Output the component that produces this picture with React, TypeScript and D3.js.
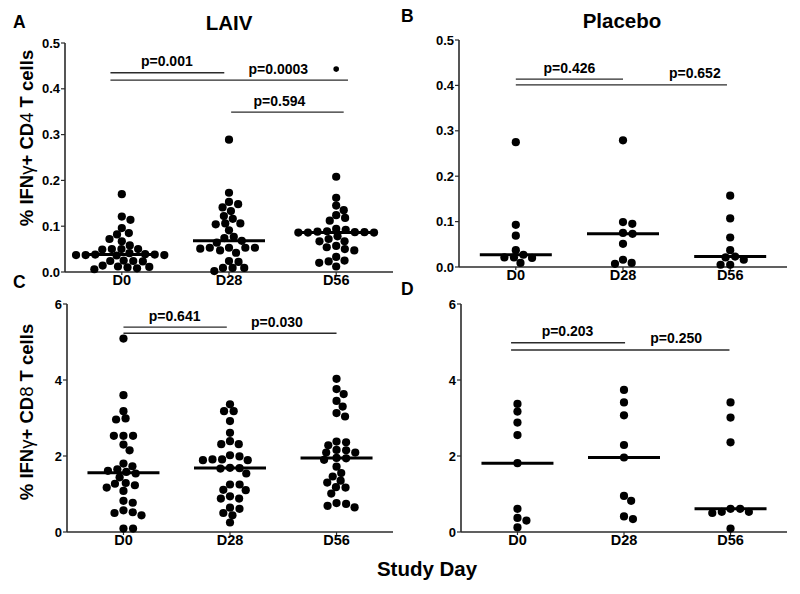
import React from "react";
import * as d3 from "d3";

const days = ["D0", "D28", "D56"];

// % IFNγ+ CD4 T cells, LAIV group
const laivCd4D0 = [
  0.17, 0.121, 0.114, 0.096, 0.082, 0.085, 0.067, 0.072, 0.058, 0.049, 0.05, 0.05, 0.05,
  0.038, 0.037, 0.037, 0.036, 0.038, 0.037, 0.039, 0.041, 0.024, 0.025, 0.024, 0.023,
  0.011, 0.008, 0.006, 0.012, 0.01, 0.014,
];
const laivCd4D28 = [
  0.289, 0.173, 0.153, 0.148, 0.141, 0.133, 0.122, 0.116, 0.106, 0.104, 0.106, 0.091,
  0.077, 0.074, 0.068, 0.064, 0.053, 0.053, 0.047, 0.051, 0.053, 0.053, 0.042, 0.022,
  0.024, 0.009, 0.009, 0.009, 0.002,
];
const laivCd4D56 = [
  0.208, 0.162, 0.145, 0.135, 0.124, 0.118, 0.112, 0.088, 0.087, 0.086, 0.086, 0.092,
  0.094, 0.086, 0.087, 0.089, 0.067, 0.057, 0.072, 0.078, 0.067, 0.05, 0.047, 0.054,
  0.033, 0.023, 0.02, 0.025, 0.012,
];
const laivCd4Extra = [null, null, 0.443];

// % IFNγ+ CD4 T cells, placebo group
const placeboCd4D0 = [0.275, 0.093, 0.069, 0.037, 0.027, 0.02, 0.021, 0.021, 0.009];
const placeboCd4D28 = [0.279, 0.099, 0.095, 0.075, 0.073, 0.051, 0.016, 0.007, 0.009];
const placeboCd4D56 = [0.157, 0.107, 0.065, 0.037, 0.023, 0.016, 0.021, 0.005, 0.005];

// % IFNγ+ CD8 T cells, LAIV group
const laivCd8D0 = [
  5.09, 3.6, 3.18, 2.99, 2.96, 2.53, 2.53, 2.53, 2.3, 2.15, 1.8, 1.73, 1.65, 1.58, 1.44,
  1.54, 1.61, 1.27, 1.17, 1.08, 1.23, 1.29, 0.77, 0.82, 0.57, 0.5, 0.44, 0.52, 0.09, 0.09,
];
const laivCd8D28 = [
  3.36, 3.18, 3.18, 2.92, 2.61, 2.39, 2.31, 2.31, 2.02, 1.91, 1.89, 1.89, 1.91, 1.99,
  1.68, 1.67, 1.69, 1.54, 1.25, 1.25, 1.11, 1.1, 0.88, 0.94, 0.88, 0.64, 0.61, 0.5, 0.44,
  0.25,
];
const laivCd8D56 = [
  4.03, 3.76, 3.63, 3.45, 3.3, 3.13, 3.04, 2.28, 2.38, 2.36, 2.15, 2.09, 2.09, 2.16,
  1.95, 1.9, 1.94, 1.72, 1.46, 1.55, 1.3, 1.35, 1.17, 1.18, 1.01, 0.74, 0.65, 0.69, 0.76,
];

// % IFNγ+ CD8 T cells, placebo group
const placeboCd8D0 = [3.37, 3.17, 2.88, 2.55, 1.81, 0.61, 0.37, 0.3, 0.12];
const placeboCd8D28 = [3.74, 3.41, 3.07, 2.29, 1.96, 0.95, 0.82, 0.34, 0.41];
const placeboCd8D56 = [3.41, 3.01, 2.36, 0.61, 0.53, 0.5, 0.53, 0.61, 0.09];

const cd4Ticks = [0, 0.1, 0.2, 0.3, 0.4, 0.5];
const cd8Ticks = [0, 2, 4, 6];

// significance bars: from/to/labelAt are in category steps (0 = D0)
const laivCd4Bars = [
  { from: -0.106, to: 0.956, y: 0.435, label: "p=0.001", at: 0.42 },
  { from: -0.106, to: 2.11, y: 0.419, label: "p=0.0003", at: 1.46 },
  { from: 1.02, to: 2.07, y: 0.349, label: "p=0.594", at: 1.47 },
];
const placeboCd4Bars = [
  { from: 0, to: 1.0, y: 0.414, label: "p=0.426", at: 0.5 },
  { from: 0, to: 1.97, y: 0.401, label: "p=0.652", at: 1.67 },
];
const laivCd8Bars = [
  { from: 0, to: 0.97, y: 5.39, label: "p=0.641", at: 0.48 },
  { from: 0, to: 2.0, y: 5.23, label: "p=0.030", at: 1.44 },
];
const placeboCd8Bars = [
  { from: -0.06, to: 1.01, y: 4.98, label: "p=0.203", at: 0.47 },
  { from: -0.06, to: 1.99, y: 4.79, label: "p=0.250", at: 1.49 },
];

const FONT = "'Liberation Sans', Arial, Helvetica, sans-serif";
const INK = "#2b2b2b";

// beeswarm with an elliptical exclusion zone: wider across than up/down,
// so close rows stagger like the original scatter-dot plot
function swarm(vals: number[], y: (v: number) => number, wx: number, wy: number) {
  const pts = vals.map((v) => ({ v, y: y(v), x: 0 }));
  const order = pts.slice().sort((a, b) => a.y - b.y);
  const placed: { x: number; y: number }[] = [];
  const hit = (q: { x: number; y: number }, cx: number, cy: number) =>
    ((q.x - cx) / wx) ** 2 + ((q.y - cy) / wy) ** 2 < 0.999;
  for (const p of order) {
    const cands = [0];
    for (const q of placed) {
      const dy = Math.abs(q.y - p.y);
      if (dy < wy) {
        const dx = wx * Math.sqrt(1 - (dy / wy) ** 2);
        cands.push(q.x + dx, q.x - dx);
      }
    }
    cands.sort((a, b) => Math.abs(a) - Math.abs(b) || b - a);
    for (const c of cands) {
      if (!placed.some((q) => hit(q, c, p.y))) {
        p.x = c;
        break;
      }
    }
    placed.push(p);
  }
  return pts;
}

interface Bar {
  from: number;
  to: number;
  y: number;
  label: string;
  at: number;
}

interface PanelProps {
  groups: number[][];
  extra?: (number | null)[];
  domain: [number, number];
  ticks: number[];
  fmt: (v: number) => string;
  bars: Bar[];
  left: number;
  right: number;
  top: number;
  bottom: number;
}

const Panel: React.FC<PanelProps> = ({ groups, extra, domain, ticks, fmt, bars, left, right, top, bottom }) => {
  const x = d3.scalePoint<string>().domain(days).range([left, right]).padding(0.53);
  const y = d3.scaleLinear().domain(domain).range([bottom, top]);
  const step = x.step();
  const x0 = x(days[0]) as number;
  const ix = (i: number) => x0 + i * step;

  return (
    <g>
      {/* axes */}
      <line x1={left} x2={left} y1={top} y2={bottom} stroke={INK} strokeWidth={1.6} />
      <line x1={left} x2={right} y1={bottom} y2={bottom} stroke={INK} strokeWidth={1.6} />
      {ticks.map((t) => (
        <g key={t}>
          <line x1={left - 4} x2={left} y1={y(t)} y2={y(t)} stroke={INK} strokeWidth={1.2} />
          <text x={left - 5} y={y(t)} dy="0.36em" textAnchor="end" fontSize={13} fontWeight="bold">
            {fmt(t)}
          </text>
        </g>
      ))}
      {days.map((d) => (
        <g key={d}>
          <line x1={x(d)} x2={x(d)} y1={bottom} y2={bottom + 3} stroke={INK} strokeWidth={1.2} />
          <text x={x(d)} y={bottom + 12.5} textAnchor="middle" fontSize={14.5} fontWeight="bold">
            {d}
          </text>
        </g>
      ))}

      {/* dots and medians */}
      {groups.map((vals, gi) => {
        const cx = x(days[gi]) as number;
        const med = d3.median(vals) as number;
        return (
          <g key={gi}>
            {swarm(vals, y, 9.6, 7.4).map((p, i) => (
              <circle key={i} cx={cx + p.x} cy={p.y} r={4.1} fill="#000" />
            ))}
            <line x1={cx - 36} x2={cx + 36} y1={y(med)} y2={y(med)} stroke="#000" strokeWidth={3} />
          </g>
        );
      })}
      {extra &&
        extra.map((v, gi) =>
          v == null ? null : <circle key={"e" + gi} cx={x(days[gi])} cy={y(v)} r={2.8} fill="#000" />
        )}

      {/* significance bars */}
      {bars.map((b) => (
        <g key={b.label}>
          <line x1={ix(b.from)} x2={ix(b.to)} y1={y(b.y)} y2={y(b.y)} stroke={INK} strokeWidth={1.3} />
          <text x={ix(b.at)} y={y(b.y) - 6.5} textAnchor="middle" fontSize={14} fontWeight="bold">
            {b.label}
          </text>
        </g>
      ))}
    </g>
  );
};

const f1 = d3.format(".1f");
const f0 = d3.format("d");

export default function App() {
  return (
    <svg
      width={800}
      height={594}
      style={{ position: "absolute", left: 0, top: 0, background: "#fff" }}
      fontFamily={FONT}
      fill="#000"
    >
      <rect width={800} height={594} fill="#fff" />

      <Panel
        groups={[laivCd4D0, laivCd4D28, laivCd4D56]}
        extra={laivCd4Extra}
        domain={[0, 0.5]}
        ticks={cd4Ticks}
        fmt={f1}
        bars={laivCd4Bars}
        left={65}
        right={393}
        top={43}
        bottom={272}
      />
      <Panel
        groups={[placeboCd4D0, placeboCd4D28, placeboCd4D56]}
        domain={[0, 0.5]}
        ticks={cd4Ticks}
        fmt={f1}
        bars={placeboCd4Bars}
        left={459}
        right={787}
        top={40}
        bottom={267}
      />
      <Panel
        groups={[laivCd8D0, laivCd8D28, laivCd8D56]}
        domain={[0, 6]}
        ticks={cd8Ticks}
        fmt={f0}
        bars={laivCd8Bars}
        left={67}
        right={393}
        top={304}
        bottom={532}
      />
      <Panel
        groups={[placeboCd8D0, placeboCd8D28, placeboCd8D56]}
        domain={[0, 6]}
        ticks={cd8Ticks}
        fmt={f0}
        bars={placeboCd8Bars}
        left={461}
        right={787}
        top={304}
        bottom={532}
      />

      {/* panel letters and titles */}
      <text x={13} y={28} fontSize={17.5} fontWeight="bold">A</text>
      <text x={401} y={22} fontSize={17.5} fontWeight="bold">B</text>
      <text x={13} y={288} fontSize={17.5} fontWeight="bold">C</text>
      <text x={401} y={295} fontSize={17.5} fontWeight="bold">D</text>
      <text x={229} y={30} fontSize={20.5} fontWeight="bold" textAnchor="middle">LAIV</text>
      <text x={622} y={28} fontSize={20.5} fontWeight="bold" textAnchor="middle">Placebo</text>

      {/* axis titles */}
      <text transform="translate(33,138) rotate(-90)" textAnchor="middle" fontSize={18.5} fontWeight="bold">
        % IFN<tspan fontWeight="normal">γ</tspan>+ CD<tspan fontWeight="normal">4</tspan> T cells
      </text>
      <text transform="translate(33,412) rotate(-90)" textAnchor="middle" fontSize={18.5} fontWeight="bold">
        % IFN<tspan fontWeight="normal">γ</tspan>+ CD<tspan fontWeight="normal">8</tspan> T cells
      </text>
      <text x={427} y={576} textAnchor="middle" fontSize={20.5} fontWeight="bold">Study Day</text>
    </svg>
  );
}
